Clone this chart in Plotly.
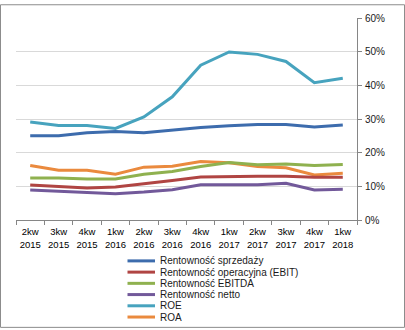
import plotly.graph_objects as go

categories = ["2kw<br>2015", "3kw<br>2015", "4kw<br>2015", "1kw<br>2016", "2kw<br>2016", "3kw<br>2016",
              "4kw<br>2016", "1kw<br>2017", "2kw<br>2017", "3kw<br>2017", "4kw<br>2017", "1kw<br>2018"]

rent_sprzedazy = [25.0, 25.0, 25.9, 26.3, 25.9, 26.7, 27.5, 28.0, 28.4, 28.4, 27.6, 28.2]
rent_ebit = [10.4, 10.0, 9.5, 9.8, 10.7, 11.7, 12.8, 13.0, 13.0, 13.0, 12.7, 12.7]
rent_ebitda = [12.5, 12.5, 12.2, 12.2, 13.6, 14.4, 15.9, 17.1, 16.4, 16.6, 16.2, 16.5]
rent_netto = [8.9, 8.5, 8.2, 7.8, 8.3, 9.0, 10.5, 10.5, 10.5, 10.9, 8.9, 9.1]
roe = [29.1, 28.1, 28.1, 27.2, 30.6, 36.6, 46.0, 49.9, 49.2, 47.1, 40.8, 42.1]
roa = [16.2, 14.8, 14.8, 13.6, 15.7, 16.0, 17.4, 17.0, 15.9, 15.5, 13.4, 13.9]

series_names = ["Rentowność sprzedaży", "Rentowność operacyjna (EBIT)", "Rentowność EBITDA",
                "Rentowność netto", "ROE", "ROA"]
series_values = [rent_sprzedazy, rent_ebit, rent_ebitda, rent_netto, roe, roa]
colors = ["#3D6CAD", "#B04543", "#8FB14F", "#72599A", "#47A3BE", "#EA8A3E"]
draw_order = [4, 0, 5, 2, 1, 3]

W, H = 405, 330
L, R, T, B = 16, 48, 14, 110
pw, ph = W - L - R, H - T - B

fig = go.Figure()
for i in draw_order:
    fig.add_trace(go.Scatter(
        x=categories, y=[v / 100 for v in series_values[i]], mode="lines",
        name=series_names[i], line=dict(color=colors[i], width=3), showlegend=False,
    ))

def px(x):
    return (x - L) / pw

def py(y):
    return (H - B - y) / ph

shapes = []
annotations = []
row0, step = 261.7, 11.45
for k, (name, col) in enumerate(zip(series_names, colors)):
    yy = row0 + k * step
    shapes.append(dict(type="line", xref="paper", yref="paper", x0=px(127.5), x1=px(155),
                       y0=py(yy), y1=py(yy), line=dict(color=col, width=3)))
    annotations.append(dict(xref="paper", yref="paper", x=px(158), y=py(yy), text=name,
                            showarrow=False, xanchor="left", yanchor="middle",
                            font=dict(family="Liberation Sans, Arial", size=10, color="#1a1a1a")))

shapes.append(dict(type="rect", xref="paper", yref="paper", x0=px(0.5), x1=px(W - 0.5),
                   y0=py(H - 0.5), y1=py(0.5), line=dict(color="#8c8c8c", width=1)))

fig.update_layout(
    width=W, height=H, margin=dict(l=L, r=R, t=T, b=B),
    paper_bgcolor="white", plot_bgcolor="white",
    shapes=shapes, annotations=annotations, showlegend=False,
    xaxis=dict(type="category", range=[-0.5, 11.5], showgrid=False, showline=True,
               linecolor="#868686", linewidth=1, ticks="outside", tickson="boundaries",
               ticklen=4, tickcolor="#868686", tickangle=0, ticklabelstandoff=3,
               tickfont=dict(family="Liberation Sans Narrow, Liberation Sans, Arial", size=9.5, color="#000000")),
    yaxis=dict(side="right", range=[0, 0.6], dtick=0.1, tickformat=".0%", showgrid=True,
               gridcolor="#d9d9d9", gridwidth=1, showline=True, linecolor="#868686", linewidth=1,
               ticks="outside", ticklen=4, tickcolor="#868686", zeroline=False,
               ticklabelstandoff=1,
               tickfont=dict(family="Liberation Sans, Arial", size=10, color="#1a1a1a")),
)

fig.write_html("out.html")
